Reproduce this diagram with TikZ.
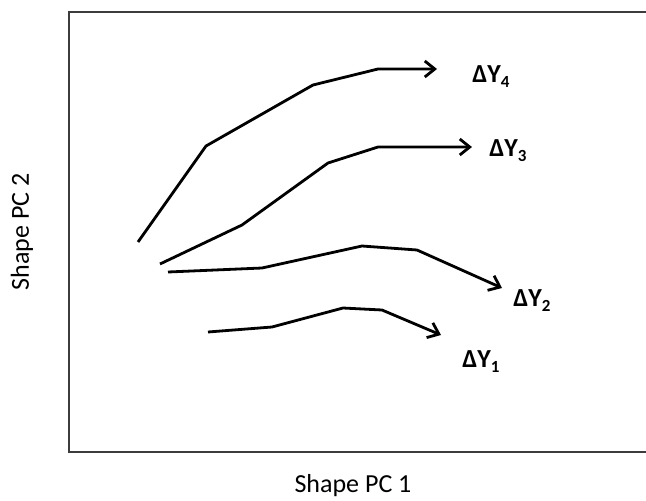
\documentclass[tikz,border=0pt]{standalone}
\usepackage{fontspec}
\setmainfont{Carlito}
\usetikzlibrary{arrows.meta,positioning}
\definecolor{framegray}{RGB}{60,60,60}
\newcommand{\dY}[1]{ΔY\raisebox{-5pt}{\fontsize{17}{20}\selectfont #1}}

\begin{document}
\begin{tikzpicture}[
    x=1pt, y=-1pt,
    frame/.style={draw=framegray, line width=1.6pt},
    trend/.style={line width=2.8pt, line join=miter, -{Straight Barb[length=10pt, width=16pt, line width=2.8pt]}},
    dlabel/.style={font=\fontsize{26}{30}\selectfont\bfseries, inner sep=0pt},
    axlabel/.style={font=\fontsize{26}{30}\selectfont, inner sep=0pt}
  ]
    \useasboundingbox (0,0) rectangle (646,501);
    % plot frame, open to the right
    \draw[frame] (646,12) -- (69,12) -- (69,452) -- (646,452);
    % trajectories
    \draw[trend] (138,242) -- (206,146) -- (313,85) -- (378,69) -- (437,69) coordinate (end4);
    \draw[trend] (160,264) -- (242,225) -- (328,163) -- (378,147) -- (472,147) coordinate (end3);
    \draw[trend] (168,272) -- (262,268) -- (362,246) -- (417,250) -- (502,288) coordinate (end2);
    \draw[trend] (208,332) -- (272,327) -- (343,308) -- (382,310) -- (441,335) coordinate (end1);
    % labels
    \node[dlabel] (dy4) at (491,77) {\dY{4}};
    \node[dlabel] (dy3) at (508,151) {\dY{3}};
    \node[dlabel] (dy2) at (532,301) {\dY{2}};
    \node[dlabel] (dy1) at (481,362) {\dY{1}};
    \node[axlabel] (pc1) at (353,486) {Shape PC 1};
    \node[axlabel, rotate=90] (pc2) at (22,232) {Shape PC 2};
  \end{tikzpicture}
\end{document}
